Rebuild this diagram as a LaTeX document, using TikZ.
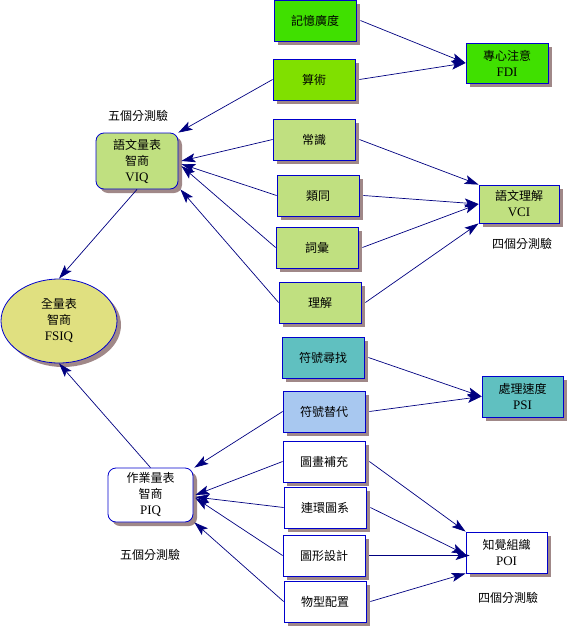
\documentclass[tikz,border=0pt]{standalone}
\usepackage{fontspec}
\setmainfont{Liberation Serif}
\newfontfamily\cjk{Noto Sans CJK TC}
\usetikzlibrary{shadows,arrows.meta,shapes.geometric}
\definecolor{bordc}{HTML}{0000CC}
\definecolor{edgec}{HTML}{000080}
\definecolor{shadc}{HTML}{A08888}
\definecolor{gbright}{HTML}{40E000}
\definecolor{glime}{HTML}{80E000}
\definecolor{gpale}{HTML}{C0E080}
\definecolor{ypale}{HTML}{E0E080}
\definecolor{teal}{HTML}{60C0C0}
\definecolor{lblue}{HTML}{A8C8F0}
\newcommand{\lat}[1]{{\fontsize{13}{16}\selectfont #1}}
\tikzset{
  base/.style={draw=bordc, line width=0.8pt, align=center, inner sep=0pt,
    font=\fontsize{12}{16}\selectfont,
    drop shadow={shadow xshift=4pt, shadow yshift=-4pt, fill=shadc, opacity=1}},
  tbox/.style={base, rectangle, minimum width=82pt, minimum height=41pt},
  rbox/.style={base, rectangle, rounded corners=8pt},
  lab/.style={font=\cjk\fontsize{12}{16}\selectfont},
  arr/.style={draw=edgec, line width=0.7pt, -{Stealth[length=14pt,width=9pt,inset=3pt]}}
}
\begin{document}
\begin{tikzpicture}[x=1pt,y=-1pt]
\useasboundingbox (0,0) rectangle (568,627);
% upper right group
\node[tbox, fill=gbright] (mem) at (315,20.5) {\cjk 記憶廣度};
\node[tbox, fill=glime] (ari) at (314,79.5) {\cjk 算術};
\node[tbox, fill=gpale] (inf) at (314,139.5) {\cjk 常識};
\node[tbox, fill=gpale] (sim) at (318,195.5) {\cjk 類同};
\node[tbox, fill=gpale] (voc) at (317,247.5) {\cjk 詞彙};
\node[tbox, fill=gpale] (com) at (320,302.5) {\cjk 理解};
\node[tbox, fill=gbright, minimum width=82pt, minimum height=40pt] (fdi) at (507,63) {{\cjk 專心注意}\\\lat{FDI}};
\node[tbox, fill=gpale, minimum width=80pt, minimum height=38pt] (vci) at (519,204) {{\cjk 語文理解}\\\lat{VCI}};
\node[rbox, fill=gpale, minimum width=82pt, minimum height=56pt] (viq) at (137,161) {{\cjk 語文量表}\\{\cjk 智商}\\\lat{VIQ}};
\node[base, ellipse, fill=ypale, minimum width=116pt, minimum height=84pt] (fsiq) at (59,321) {{\cjk 全量表}\\{\cjk 智商}\\\lat{FSIQ}};
% lower group
\node[tbox, fill=teal] (ss) at (323,357.5) {\cjk 符號尋找};
\node[tbox, fill=lblue] (cd) at (324,411.5) {\cjk 符號替代};
\node[tbox, fill=white] (pc) at (324,461.5) {\cjk 圖畫補充};
\node[tbox, fill=white] (pa) at (325,507.5) {\cjk 連環圖系};
\node[tbox, fill=white] (bd) at (324,555.5) {\cjk 圖形設計};
\node[tbox, fill=white] (oa) at (325,601.5) {\cjk 物型配置};
\node[tbox, fill=teal, minimum width=81pt] (psi) at (522.5,396.5) {{\cjk 處理速度}\\\lat{PSI}};
\node[tbox, fill=white, minimum width=81pt] (poi) at (506.5,552.5) {{\cjk 知覺組織}\\\lat{POI}};
\node[rbox, fill=white, minimum width=85pt, minimum height=54pt] (piq) at (150.5,495) {{\cjk 作業量表}\\{\cjk 智商}\\\lat{PIQ}};
% labels
\node[lab] (l1) at (138,116) {五個分測驗};
\node[lab] (l2) at (522,244) {四個分測驗};
\node[lab] (l3) at (150,555) {五個分測驗};
\node[lab] (l4) at (508,598) {四個分測驗};
% edges to VIQ
\draw[arr] (ari.west) -- (viq.north east);
\draw[arr] (inf.west) -- ([xshift=3pt]viq.east);
\draw[arr] (sim.west) -- ([xshift=3pt,yshift=-3pt]viq.east);
\draw[arr] (voc.west) -- ([xshift=3pt,yshift=-5pt]viq.east);
\draw[arr] (com.west) -- ([xshift=2pt]viq.south east);
% edges to FDI / VCI
\draw[arr] ([xshift=4pt]mem.east) -- (fdi.west);
\draw[arr] ([xshift=4pt]ari.east) -- (fdi.west);
\draw[arr] ([xshift=4pt]inf.east) -- (vci.north west);
\draw[arr] ([xshift=4pt]sim.east) -- (vci.west);
\draw[arr] ([xshift=4pt]voc.east) -- (vci.west);
\draw[arr] ([xshift=4pt]com.east) -- (vci.south west);
% edges to PIQ
\draw[arr] (cd.west) -- ([xshift=1pt]piq.north east);
\draw[arr] (pc.west) -- ([xshift=2pt]piq.east);
\draw[arr] (pa.west) -- ([xshift=2pt,yshift=-2pt]piq.east);
\draw[arr] (bd.west) -- ([xshift=2pt,yshift=-3pt]piq.east);
\draw[arr] (oa.west) -- ([xshift=1pt]piq.south east);
% edges to PSI / POI
\draw[arr] ([xshift=4pt]ss.east) -- (psi.west);
\draw[arr] ([xshift=4pt]cd.east) -- (psi.west);
\draw[arr] ([xshift=4pt]pc.east) -- (poi.north west);
\draw[arr] ([xshift=4pt]pa.east) -- ([yshift=-2pt]poi.west);
\draw[arr] ([xshift=4pt]bd.east) -- ([xshift=4pt]bd.east -| poi.west);
\draw[arr] ([xshift=4pt]oa.east) -- (poi.south west);
% to FSIQ
\draw[arr] (viq.south) -- (fsiq.north);
\draw[arr] (piq.north) -- (fsiq.south);
\end{tikzpicture}
\end{document}
